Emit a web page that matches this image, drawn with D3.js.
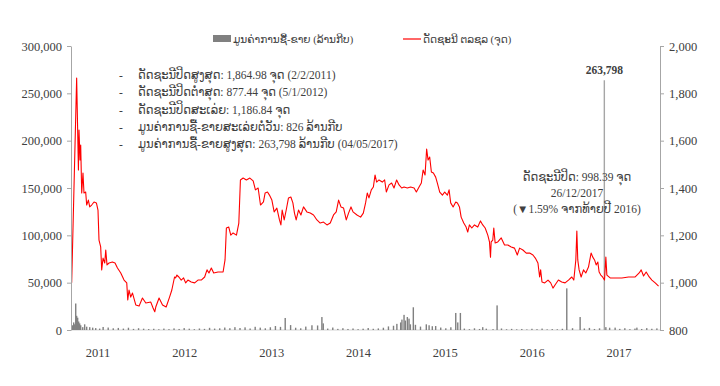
<!DOCTYPE html>
<html>
<head>
<meta charset="utf-8">
<script src="https://cdn.jsdelivr.net/npm/d3@7"></script>
<style>
  body { margin: 0; background: #fff; }
  text { font-family: "Liberation Serif", "DejaVu Sans", serif; fill: #404040; }
</style>
</head>
<body>
<div id="chart"></div>
<script>
var svgWidth = 720;
var svgHeight = 386;

// plot box
var plot = { left: 71, right: 660, top: 46, bottom: 330 };

// year labels on the category axis
var years = ['2011', '2012', '2013', '2014', '2015', '2016', '2017'];

// LSX composite index, [decimal year, points]
var indexSeries = [
  [2011.027, 1000], [2011.086, 1865], [2011.107, 1476], [2011.114, 1645], [2011.126, 1518],
  [2011.134, 1582], [2011.146, 1379], [2011.161, 1463], [2011.173, 1379], [2011.193, 1383],
  [2011.205, 1328], [2011.225, 1349], [2011.241, 1320], [2011.264, 1328], [2011.292, 1341],
  [2011.320, 1337], [2011.339, 1307], [2011.351, 1180], [2011.371, 1151], [2011.383, 1054],
  [2011.399, 1104], [2011.419, 1083], [2011.431, 1138], [2011.446, 1075], [2011.470, 1083],
  [2011.510, 1087], [2011.541, 1083], [2011.570, 1062], [2011.609, 1041], [2011.648, 1011],
  [2011.680, 999], [2011.692, 927], [2011.707, 969], [2011.727, 939], [2011.748, 956],
  [2011.787, 906], [2011.826, 901], [2011.866, 935], [2011.906, 914], [2011.965, 918],
  [2011.992, 893], [2012.012, 877], [2012.024, 897], [2012.063, 935], [2012.104, 906],
  [2012.147, 897], [2012.187, 939], [2012.214, 969], [2012.246, 1024], [2012.258, 1020],
  [2012.274, 1032], [2012.297, 1024], [2012.325, 1011], [2012.353, 1020], [2012.377, 999],
  [2012.404, 1011], [2012.443, 1003], [2012.484, 999], [2012.523, 1011], [2012.562, 1011],
  [2012.602, 1024], [2012.630, 1054], [2012.653, 1041], [2012.681, 1062], [2012.709, 1041],
  [2012.760, 1045], [2012.820, 1045], [2012.843, 1096], [2012.859, 1231], [2012.887, 1235],
  [2012.911, 1201], [2012.938, 1210], [2012.978, 1201], [2013.006, 1252], [2013.025, 1434],
  [2013.057, 1442], [2013.096, 1434], [2013.137, 1442], [2013.176, 1430], [2013.203, 1392],
  [2013.235, 1400], [2013.263, 1328], [2013.298, 1341], [2013.318, 1379], [2013.346, 1383],
  [2013.369, 1370], [2013.398, 1349], [2013.425, 1299], [2013.457, 1315], [2013.488, 1265],
  [2013.505, 1244], [2013.520, 1307], [2013.544, 1265], [2013.568, 1307], [2013.595, 1358],
  [2013.623, 1362], [2013.647, 1337], [2013.666, 1294], [2013.686, 1265], [2013.714, 1307],
  [2013.742, 1286], [2013.773, 1320], [2013.813, 1299], [2013.853, 1294], [2013.892, 1286],
  [2013.932, 1265], [2013.971, 1252], [2014.010, 1256], [2014.051, 1244], [2014.090, 1252],
  [2014.129, 1286], [2014.161, 1299], [2014.189, 1349], [2014.217, 1320], [2014.248, 1315],
  [2014.280, 1265], [2014.307, 1294], [2014.336, 1320], [2014.360, 1299], [2014.407, 1286],
  [2014.450, 1277], [2014.482, 1294], [2014.509, 1337], [2014.529, 1379], [2014.549, 1358],
  [2014.577, 1392], [2014.601, 1404], [2014.621, 1455], [2014.640, 1425], [2014.668, 1434],
  [2014.707, 1425], [2014.735, 1434], [2014.755, 1383], [2014.787, 1413], [2014.818, 1421],
  [2014.846, 1400], [2014.877, 1434], [2014.906, 1413], [2014.937, 1400], [2014.965, 1404],
  [2015.004, 1400], [2015.043, 1404], [2015.084, 1400], [2015.111, 1383], [2015.143, 1404],
  [2015.170, 1421], [2015.191, 1476], [2015.214, 1455], [2015.233, 1565], [2015.250, 1518],
  [2015.269, 1531], [2015.289, 1468], [2015.313, 1463], [2015.340, 1446], [2015.360, 1421],
  [2015.388, 1383], [2015.420, 1370], [2015.447, 1383], [2015.479, 1370], [2015.499, 1392],
  [2015.518, 1337], [2015.547, 1320], [2015.578, 1341], [2015.598, 1337], [2015.622, 1320],
  [2015.642, 1277], [2015.673, 1252], [2015.701, 1235], [2015.720, 1214], [2015.740, 1244],
  [2015.768, 1231], [2015.800, 1244], [2015.839, 1235], [2015.871, 1261], [2015.898, 1244],
  [2015.927, 1231], [2015.958, 1201], [2015.978, 1172], [2015.990, 1108], [2015.998, 1172],
  [2016.017, 1180], [2016.029, 1231], [2016.045, 1168], [2016.076, 1172], [2016.117, 1189],
  [2016.156, 1159], [2016.195, 1159], [2016.235, 1151], [2016.274, 1146], [2016.307, 1117],
  [2016.334, 1146], [2016.373, 1138], [2016.413, 1125], [2016.453, 1125], [2016.492, 1117],
  [2016.520, 1104], [2016.551, 1083], [2016.571, 1024], [2016.583, 1054], [2016.599, 1003],
  [2016.631, 999], [2016.670, 1011], [2016.702, 999], [2016.729, 977], [2016.753, 990],
  [2016.793, 1011], [2016.832, 1003], [2016.872, 999], [2016.912, 1011], [2016.951, 1024],
  [2016.975, 1011], [2016.999, 1096], [2017.011, 1218], [2017.022, 1096], [2017.038, 1054],
  [2017.062, 1024], [2017.090, 1054], [2017.117, 1041], [2017.149, 1066], [2017.180, 1125],
  [2017.200, 1108], [2017.221, 1096], [2017.240, 1075], [2017.260, 1087], [2017.275, 1045],
  [2017.295, 1032], [2017.316, 1024], [2017.339, 1011], [2017.355, 1108], [2017.367, 1032],
  [2017.406, 1020], [2017.465, 1020], [2017.545, 1020], [2017.624, 1024], [2017.703, 1024],
  [2017.750, 1041], [2017.774, 1054], [2017.802, 1028], [2017.833, 1045], [2017.869, 1024],
  [2017.901, 1011], [2017.940, 999], [2017.980, 985]
];

// trading value, [decimal year, million kip]
var volumeSeries = [
  [2011.039, 5000], [2011.051, 8000], [2011.063, 6000], [2011.075, 28000], [2011.086, 15000],
  [2011.098, 13000], [2011.110, 9000], [2011.122, 7000], [2011.134, 5000], [2011.158, 3000],
  [2011.181, 6000], [2011.205, 3500], [2011.241, 3000], [2011.276, 2500], [2011.312, 2000],
  [2011.359, 1500], [2011.40, 3200], [2011.46, 2600], [2011.52, 1800], [2011.58, 2200],
  [2011.64, 1500], [2011.70, 2400], [2011.76, 1200], [2011.82, 1900], [2011.88, 1400],
  [2011.94, 1000], [2012.00, 1300], [2012.06, 800], [2012.12, 1500], [2012.18, 900],
  [2012.24, 1700], [2012.30, 1100], [2012.36, 2000], [2012.42, 1400], [2012.48, 900],
  [2012.54, 1600], [2012.60, 1200], [2012.66, 2300], [2012.72, 1500], [2012.78, 1800],
  [2012.84, 2600], [2012.90, 1900], [2012.96, 3000], [2013.02, 2100], [2013.08, 2800],
  [2013.14, 1600], [2013.20, 3400], [2013.26, 2500], [2013.32, 1800], [2013.38, 2900],
  [2013.44, 4200], [2013.50, 3300], [2013.556, 12700], [2013.62, 5200], [2013.68, 2400],
  [2013.74, 1800], [2013.80, 3600], [2013.873, 5000], [2013.94, 4800], [2013.991, 13700],
  [2014.007, 7000], [2014.06, 1500], [2014.12, 2600], [2014.18, 1200], [2014.24, 1900],
  [2014.30, 1100], [2014.36, 1600], [2014.42, 900], [2014.48, 1400], [2014.54, 2100],
  [2014.60, 1300], [2014.66, 1700], [2014.72, 2400], [2014.78, 3800], [2014.84, 4500],
  [2014.88, 6500], [2014.925, 8000], [2014.94, 11000], [2014.965, 16000], [2014.98, 10000],
  [2015.004, 13700], [2015.024, 12000], [2015.04, 6000], [2015.075, 24000], [2015.10, 5500],
  [2015.16, 3600], [2015.229, 6000], [2015.262, 5000], [2015.30, 4000], [2015.34, 4200],
  [2015.40, 2600], [2015.46, 1800], [2015.52, 2900], [2015.578, 18000], [2015.602, 8000],
  [2015.633, 18000], [2015.68, 1500], [2015.74, 900], [2015.80, 1800], [2015.86, 1100],
  [2015.898, 3000], [2015.94, 1400], [2016.02, 900], [2016.068, 26000], [2016.12, 1600],
  [2016.18, 800], [2016.24, 1200], [2016.30, 700], [2016.36, 1100], [2016.42, 600],
  [2016.48, 1300], [2016.54, 900], [2016.60, 1500], [2016.66, 700], [2016.72, 1000],
  [2016.78, 800], [2016.84, 1300], [2016.892, 44000], [2016.96, 1900], [2017.050, 13700],
  [2017.10, 1600], [2017.16, 2200], [2017.22, 1100], [2017.28, 1800], [2017.337, 263798],
  [2017.355, 3000], [2017.40, 2400], [2017.465, 2500], [2017.52, 1200], [2017.58, 1900],
  [2017.64, 900], [2017.70, 1500], [2017.723, 2500], [2017.78, 1100], [2017.84, 2000],
  [2017.90, 1300], [2017.96, 1700]
];

var volumeTicks = [0, 50000, 100000, 150000, 200000, 250000, 300000];
var indexTicks = [800, 1000, 1200, 1400, 1600, 1800, 2000];

var legendLabels = ['ມູນຄ່າການຊື້-ຂາຍ (ລ້ານກີບ)', 'ດັດຊະນີ ຕລຊລ (ຈຸດ)'];

var notes = [
  'ດັດຊະນີປິດສູງສຸດ: 1,864.98  ຈຸດ (2/2/2011)',
  'ດັດຊະນີປິດຕໍ່າສຸດ: 877.44 ຈຸດ (5/1/2012)',
  'ດັດຊະນີປິດສະເລ່ຍ: 1,186.84 ຈຸດ',
  'ມູນຄ່າການຊື້-ຂາຍສະເລ່ຍຕໍ່ວັນ: 826 ລ້ານກີບ',
  'ມູນຄ່າການຊື້-ຂາຍສູງສຸດ: 263,798 ລ້ານກີບ (04/05/2017)'
];

var closeNote = ['ດັດຊະນີປິດ: 998.39 ຈຸດ', '26/12/2017', '(▼1.59% ຈາກທ້າຍປີ 2016)'];
var peakVolume = [2017.337, 263798];

// decimal year -> Date
function toDate(t) {
    var yr = Math.floor(t);
    var a = Date.UTC(yr, 0, 1), b = Date.UTC(yr + 1, 0, 1);
    return new Date(a + (t - yr) * (b - a));
}

var svg = d3.select('#chart')
    .append('svg')
    .attr('width', svgWidth)
    .attr('height', svgHeight);

var xTimeScale = d3.scaleUtc()
    .domain([toDate(2011.019), toDate(2017.997)])
    .range([plot.left, plot.right]);

var yVolume = d3.scaleLinear()
    .domain([0, 300000])
    .range([plot.bottom, plot.top]);

var yIndex = d3.scaleLinear()
    .domain([800, 2000])
    .range([plot.bottom, plot.top]);

// category labels sit at Excel's label interval, not on Jan 1
var yearScale = d3.scalePoint()
    .domain(years)
    .range([98, 619]);

// baseline
svg.append('line')
    .attr('x1', plot.left).attr('x2', plot.right)
    .attr('y1', plot.bottom).attr('y2', plot.bottom)
    .attr('stroke', '#c8c8c8')
    .attr('stroke-width', 0.8);

// volume bars
svg.append('g')
    .selectAll('rect')
    .data(volumeSeries)
    .enter()
    .append('rect')
    .attr('x', d => xTimeScale(toDate(d[0])) - 0.7)
    .attr('width', 1.4)
    .attr('y', d => yVolume(d[1]))
    .attr('height', d => plot.bottom - yVolume(d[1]))
    .attr('fill', d => d[1] > 100000 ? '#a6a6a6' : '#808080');

// index line
var line = d3.line()
    .x(d => xTimeScale(toDate(d[0])))
    .y(d => yIndex(d[1]));

svg.append('path')
    .datum(indexSeries)
    .attr('d', line)
    .attr('fill', 'none')
    .attr('stroke', '#ff0000')
    .attr('stroke-width', 1.1)
    .attr('stroke-linejoin', 'round');

// axes
var leftAxis = d3.axisLeft(yVolume)
    .tickValues(volumeTicks)
    .tickFormat(d3.format(','))
    .tickSize(4)
    .tickSizeOuter(0)
    .tickPadding(5);

var rightAxis = d3.axisRight(yIndex)
    .tickValues(indexTicks)
    .tickFormat(d3.format(','))
    .tickSize(4)
    .tickSizeOuter(0)
    .tickPadding(5);

var gl = svg.append('g')
    .attr('transform', `translate(${plot.left},0)`)
    .call(leftAxis);

var gr = svg.append('g')
    .attr('transform', `translate(${plot.right},0)`)
    .call(rightAxis);

[gl, gr].forEach(function(g) {
    g.select('.domain').attr('stroke', '#a6a6a6');
    g.selectAll('.tick line').attr('stroke', '#a6a6a6');
    g.selectAll('.tick text')
        .style('font-family', '"Liberation Serif", serif')
        .style('font-size', '12.5px')
        .attr('fill', '#404040');
});

// year labels
svg.append('g')
    .selectAll('text')
    .data(years)
    .enter()
    .append('text')
    .attr('x', d => yearScale(d))
    .attr('y', 357)
    .attr('text-anchor', 'middle')
    .style('font-size', '12.5px')
    .text(d => d);

// legend
svg.append('rect')
    .attr('x', 213).attr('y', 35)
    .attr('width', 18).attr('height', 7)
    .attr('fill', '#808080');
svg.append('text')
    .attr('x', 233).attr('y', 43)
    .style('font-size', '10.5px')
    .text(legendLabels[0]);
svg.append('line')
    .attr('x1', 403).attr('x2', 421)
    .attr('y1', 39).attr('y2', 39)
    .attr('stroke', '#ff0000')
    .attr('stroke-width', 1.2);
svg.append('text')
    .attr('x', 423).attr('y', 43)
    .style('font-size', '10.5px')
    .text(legendLabels[1]);

// summary notes
var noteG = svg.append('g');
notes.forEach(function(t, i) {
    var y = 79 + i * 17.3;
    noteG.append('text')
        .attr('x', 119).attr('y', y)
        .style('font-size', '11.5px')
        .text('-');
    noteG.append('text')
        .attr('x', 138).attr('y', y)
        .style('font-size', '11.5px')
        .text(t);
});

// peak volume label
svg.append('text')
    .attr('x', xTimeScale(toDate(peakVolume[0])))
    .attr('y', yVolume(peakVolume[1]) - 6)
    .attr('text-anchor', 'middle')
    .style('font-size', '11.5px')
    .style('font-weight', 'bold')
    .text(d3.format(',')(peakVolume[1]));

// closing note
closeNote.forEach(function(t, i) {
    svg.append('text')
        .attr('x', 577)
        .attr('y', 181 + i * 16)
        .attr('text-anchor', 'middle')
        .style('font-size', '11.5px')
        .text(t);
});
</script>
</body>
</html>
